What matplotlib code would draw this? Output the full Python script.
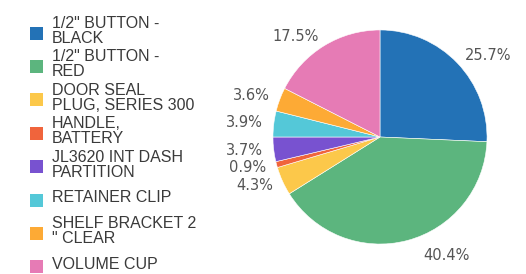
import matplotlib
matplotlib.use("Agg")
import matplotlib.pyplot as plt
from matplotlib.patches import Rectangle

categories = ['1/2" BUTTON -\nBLACK', '1/2" BUTTON -\nRED', 'DOOR SEAL\nPLUG, SERIES 300',
              'HANDLE,\nBATTERY', 'JL3620 INT DASH\nPARTITION', 'RETAINER CLIP',
              'SHELF BRACKET 2\n" CLEAR', 'VOLUME CUP']
shares = [25.7, 40.4, 4.3, 0.9, 3.7, 3.9, 3.6, 17.5]
colors = ['#2372b6', '#5cb57e', '#fcc84a', '#f0643c', '#7852d0', '#54c8d8', '#fdaa35', '#e67bb5']

W, H = 526, 274
fig = plt.figure(figsize=(W / 100, H / 100), dpi=100)
ax = fig.add_axes([235.5 / W, 3 / H, 289 / W, 268 / H])

wedges, texts = ax.pie(shares, colors=colors, startangle=90, counterclock=False,
                       labels=[f"{v:.1f}%" for v in shares], labeldistance=1.1,
                       wedgeprops=dict(edgecolor='white', linewidth=0.4),
                       textprops=dict(family='DejaVu Sans', fontsize=10.5, color='#555555'))
ax.set_xlim(-1.35, 1.35)
ax.set_ylim(-1.25, 1.25)
ax.set_aspect('equal')

# nudge the big bottom label a bit to the right like the original
texts[1].set_position((texts[1].get_position()[0] + 0.12, texts[1].get_position()[1] - 0.04))

# legend drawn as fixed-height rows
row_top, row_step = 31, 33.4
for i, (lab, c) in enumerate(zip(categories, colors)):
    yc = row_top + i * row_step
    fig.patches.append(Rectangle((30 / W, 1 - (yc + 8.5) / H), 13 / W, 13 / H,
                                 transform=fig.transFigure, facecolor=c, edgecolor='none'))
    fig.text(52 / W, 1 - yc / H, lab, ha='left', va='center', fontsize=11.5,
             family='Liberation Sans', color='#3a3a3a', linespacing=1.0)

fig.savefig("out.png", dpi=100)
